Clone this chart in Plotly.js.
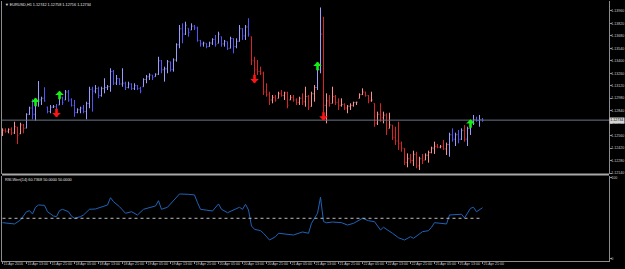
<!DOCTYPE html>
<html><head><meta charset="utf-8">
<script src="https://cdn.plot.ly/plotly-3.0.1.min.js"></script>
<style>html,body{margin:0;padding:0;background:#000;overflow:hidden}#c{width:625px;height:269px}</style>
</head><body><div id="c"></div>
<script>
// ---- data (EURUSD, H1) ----
const symbol = "EURUSD,H1";
const open = [
1.12600,1.12620,1.12610,1.12630,1.12590,1.12650,1.12580,1.12680,1.12645,1.12800,
1.12870,1.12800,1.12950,1.12960,1.12980,1.12880,1.12830,1.12880,1.12885,1.12904,
1.12990,1.12960,1.13050,1.12960,1.12900,1.12820,1.12850,1.12870,1.12830,1.12920,
1.13080,1.13060,1.13090,1.13010,1.13090,1.13100,1.13110,1.13280,1.13150,1.13200,
1.13140,1.13150,1.13100,1.13140,1.13090,1.13120,1.13090,1.13109,1.13190,1.13220,
1.13240,1.13222,1.13250,1.13400,1.13300,1.13310,1.13390,1.13300,1.13410,1.13580,
1.13760,1.13700,1.13765,1.13746,1.13790,1.13770,1.13630,1.13590,1.13597,1.13560,
1.13600,1.13640,1.13597,1.13671,1.13590,1.13615,1.13541,1.13650,1.13560,1.13620,
1.13760,1.13680,1.13780,1.13671,1.13400,1.13300,1.13280,1.13260,1.13050,1.13020,
1.12960,1.12990,1.12979,1.13030,1.13010,1.13040,1.12960,1.12990,1.12960,1.12930,
1.12980,1.12940,1.13000,1.12890,1.13030,1.13100,1.13300,1.13700,1.12900,1.12950,
1.12923,1.13000,1.12930,1.12900,1.12910,1.12870,1.12890,1.12900,1.12930,1.12979,
1.13020,1.13050,1.13010,1.12950,1.12923,1.12700,1.12800,1.12760,1.12790,1.12642,
1.12679,1.12540,1.12500,1.12470,1.12418,1.12260,1.12300,1.12280,1.12350,1.12220,
1.12300,1.12286,1.12340,1.12370,1.12420,1.12440,1.12430,1.12440,1.12410,1.12460,
1.12570,1.12520,1.12570,1.12520,1.12620,1.12520,1.12640,1.12720,1.12740,1.12730,
1.12742];
const high = [
1.12642,1.12642,1.12642,1.12653,1.12716,1.12660,1.12705,1.12690,1.12811,1.12885,
1.12968,1.12979,1.13173,1.12997,1.13103,1.12885,1.12904,1.12904,1.12915,1.13016,
1.12997,1.13072,1.13072,1.12979,1.12960,1.12867,1.12885,1.12904,1.12941,1.13109,
1.13109,1.13128,1.13109,1.13109,1.13204,1.13128,1.13316,1.13297,1.13241,1.13204,
1.13316,1.13166,1.13166,1.13148,1.13148,1.13128,1.13109,1.13204,1.13241,1.13260,
1.13241,1.13260,1.13446,1.13409,1.13334,1.13409,1.13390,1.13428,1.13597,1.13802,
1.13821,1.13839,1.13765,1.13821,1.13802,1.13783,1.13634,1.13615,1.13597,1.13615,
1.13653,1.13690,1.13727,1.13671,1.13634,1.13615,1.13671,1.13653,1.13653,1.13802,
1.13765,1.13802,1.13878,1.13671,1.13446,1.13409,1.13334,1.13278,1.13148,1.13053,
1.13016,1.13016,1.13053,1.13072,1.13053,1.13053,1.13016,1.13016,1.12979,1.12997,
1.13035,1.13109,1.13016,1.13053,1.13128,1.13334,1.13999,1.13895,1.13035,1.13016,
1.13109,1.13016,1.12979,1.12979,1.12923,1.12904,1.12923,1.12941,1.12941,1.13035,
1.13091,1.13053,1.13016,1.13053,1.12923,1.12829,1.12923,1.12829,1.12811,1.12817,
1.12679,1.12660,1.12716,1.12492,1.12418,1.12361,1.12354,1.12391,1.12379,1.12323,
1.12354,1.12361,1.12391,1.12436,1.12492,1.12466,1.12455,1.12511,1.12481,1.12593,
1.12642,1.12593,1.12623,1.12642,1.12679,1.12660,1.12735,1.12792,1.12772,1.12792,
1.12758];
const low = [
1.12556,1.12593,1.12586,1.12567,1.12578,1.12466,1.12578,1.12586,1.12642,1.12792,
1.12743,1.12728,1.12885,1.12904,1.12941,1.12811,1.12811,1.12870,1.12825,1.12904,
1.12904,1.12960,1.12941,1.12885,1.12772,1.12811,1.12811,1.12811,1.12743,1.12867,
1.12829,1.13035,1.12979,1.12997,1.13035,1.13072,1.13053,1.13128,1.13128,1.13128,
1.13109,1.13072,1.13091,1.13072,1.13072,1.13072,1.13035,1.13109,1.13148,1.13185,
1.13185,1.13222,1.13241,1.13260,1.13166,1.13260,1.13278,1.13278,1.13390,1.13541,
1.13597,1.13690,1.13671,1.13746,1.13746,1.13615,1.13559,1.13559,1.13541,1.13559,
1.13578,1.13559,1.13597,1.13559,1.13559,1.13522,1.13541,1.13484,1.13541,1.13615,
1.13634,1.13634,1.13671,1.13353,1.13166,1.13241,1.13241,1.13016,1.12997,1.12904,
1.12923,1.12941,1.12979,1.12997,1.12960,1.12867,1.12960,1.12941,1.12904,1.12904,
1.12904,1.12885,1.12848,1.12885,1.12941,1.13072,1.13260,1.12735,1.12698,1.12885,
1.12923,1.12904,1.12848,1.12885,1.12848,1.12811,1.12848,1.12885,1.12904,1.12979,
1.13016,1.12997,1.12923,1.12941,1.12660,1.12679,1.12716,1.12698,1.12567,1.12642,
1.12511,1.12455,1.12399,1.12379,1.12230,1.12204,1.12249,1.12219,1.12193,1.12174,
1.12241,1.12286,1.12256,1.12361,1.12354,1.12418,1.12418,1.12399,1.12342,1.12323,
1.12492,1.12443,1.12474,1.12511,1.12492,1.12443,1.12567,1.12679,1.12716,1.12660,
1.12716];
const close = [
1.12620,1.12610,1.12630,1.12590,1.12660,1.12560,1.12680,1.12640,1.12800,1.12870,
1.12800,1.12950,1.12960,1.12980,1.12950,1.12830,1.12880,1.12885,1.12850,1.12990,
1.12930,1.13050,1.12960,1.12900,1.12820,1.12850,1.12870,1.12830,1.12920,1.13080,
1.13060,1.13090,1.13010,1.13090,1.13100,1.13110,1.13280,1.13150,1.13200,1.13140,
1.13150,1.13100,1.13140,1.13090,1.13120,1.13090,1.13060,1.13190,1.13220,1.13240,
1.13210,1.13250,1.13400,1.13300,1.13310,1.13390,1.13300,1.13410,1.13580,1.13760,
1.13700,1.13800,1.13720,1.13790,1.13770,1.13630,1.13590,1.13600,1.13560,1.13600,
1.13640,1.13580,1.13700,1.13590,1.13620,1.13540,1.13650,1.13560,1.13620,1.13760,
1.13680,1.13780,1.13700,1.13400,1.13300,1.13280,1.13260,1.13050,1.13020,1.12960,
1.12990,1.12960,1.13030,1.13010,1.13040,1.12900,1.12990,1.12960,1.12930,1.12980,
1.12940,1.13000,1.12880,1.13030,1.13100,1.13300,1.13700,1.12900,1.12950,1.12920,
1.13000,1.12930,1.12900,1.12910,1.12870,1.12890,1.12900,1.12930,1.12935,1.13020,
1.13050,1.13010,1.12950,1.12960,1.12700,1.12800,1.12760,1.12790,1.12620,1.12680,
1.12540,1.12500,1.12470,1.12420,1.12260,1.12300,1.12280,1.12350,1.12220,1.12300,
1.12280,1.12340,1.12370,1.12420,1.12440,1.12430,1.12440,1.12410,1.12460,1.12570,
1.12520,1.12570,1.12520,1.12620,1.12520,1.12640,1.12720,1.12740,1.12730,1.12742,
1.12734];
// trend segments of the colouring indicator (start bar, direction)
const trendStart = [0, 8, 83, 105, 107, 149, 154, 155];
const trendDir   = ['dn','up','dn','up','dn','up','dn','up'];
// signal arrows (bar, price of arrow tip)
const buyBar  = [11, 19, 105, 156];
const buyTip  = [1.12986, 1.13063, 1.13390, 1.12743];
const sellBar = [18, 84, 107];
const sellTip = [1.12766, 1.13148, 1.12728];
// RSI(14)
const rsiBar = [0,2,4,6,8,9,10,11,12,14,15,17,18,19,20,22,23,24,26,27,29,31,33,35,36,37,39,41,43,45,47,51,52,53,55,57,59,62,64,65,66,70,72,73,75,79,80,81,82,83,84,86,87,89,91,92,95,97,100,102,103,105,106,107,108,110,113,115,117,120,122,124,126,127,130,132,134,136,137,140,142,143,144,148,149,152,153,154,156,157,158,160];
const rsiVal = [44.6,43.8,43.0,47.9,58.1,59.4,55.3,63.6,66.4,66.0,58.1,52.8,52.0,59.4,61.1,58.1,52.5,50.0,52.0,54.1,61.1,61.5,64.3,66.4,75.4,70.5,64.3,56.2,58.1,54.1,61.1,65.2,71.7,61.1,63.6,71.7,80.0,79.6,78.8,69.3,61.1,59.0,67.7,61.1,56.9,63.6,61.1,67.3,60.2,40.5,36.4,34.7,31.5,23.2,27.3,31.5,30.6,29.4,33.1,31.5,43.8,56.2,75.9,46.0,44.5,45.4,44.6,41.7,43.8,50.0,47.0,45.8,35.6,38.9,31.5,26.0,23.2,27.3,25.3,33.5,34.7,38.9,44.6,43.0,54.1,54.1,55.0,50.5,62.3,63.6,58.1,63.0];
const rsiLevel = 50;
const rsiReading = "60.7368";
// axis labels
const priceTicks = [1.13960,1.13820,1.13680,1.13540,1.13400,1.13260,1.13120,1.12980,1.12840,1.12700,1.12560,1.12420,1.12280,1.12140];
const rsiTicks = [0, 100];
const timeTickBars = [0,8,16,24,32,40,48,56,64,72,80,88,96,104,112,120,128,136,144,152,160];
const timeTickText = ["15 Apr 2016","15 Apr 13:00","15 Apr 21:00","18 Apr 05:00","18 Apr 13:00","18 Apr 21:00","19 Apr 05:00","19 Apr 13:00","19 Apr 21:00","20 Apr 05:00","20 Apr 13:00","20 Apr 21:00","21 Apr 05:00","21 Apr 13:00","21 Apr 21:00","22 Apr 05:00","22 Apr 13:00","22 Apr 21:00","25 Apr 05:00","25 Apr 13:00","25 Apr 21:00"];

// ---- build ----
const H = 269, mT = 1, mB = 8, mL = 2, mR = 16;
const plotH = H - mT - mB;
const frac = px => (H - mB - px) / plotH;
const idx = close.map((_, i) => i);
const trendOf = i => { let d = trendDir[0]; trendStart.forEach((s, k) => { if (i >= s) d = trendDir[k]; }); return d; };
const mask = (arr, dir) => arr.map((v, i) => trendOf(i) === dir ? v : null);
function ohlcTrace(dir, upCol, dnCol) {
  return {type:'ohlc', x: idx, open: mask(open,dir), high: mask(high,dir), low: mask(low,dir), close: mask(close,dir),
    increasing:{line:{color:upCol,width:1}}, decreasing:{line:{color:dnCol,width:1}},
    tickwidth:0.3, hoverinfo:'skip', xaxis:'x', yaxis:'y', showlegend:false};
}
const n = close.length - 1;
const traces = [
  ohlcTrace('up', '#9c9cff', '#5454f6'),
  ohlcTrace('dn', '#ff8e8e', '#d82424'),
  {type:'scatter', mode:'lines', x: rsiBar, y: rsiVal, line:{color:'#1f63b6', width:1}, xaxis:'x', yaxis:'y2', hoverinfo:'skip', showlegend:false}
];
const FAM = 'Liberation Sans, Arial, sans-serif';
const tickFont = {family:FAM, size:3.6, color:'#cfcfcf'};
const frame = '#8c8c8c';
const annotations = [
  {xref:'paper', yref:'paper', x:0, y:1, xanchor:'left', yanchor:'top', xshift:1, yshift:0, showarrow:false,
   text:'▼ ' + symbol + ' ' + [open[n],high[n],low[n],close[n]].map(v=>v.toFixed(5)).join(' '),
   font:{family:FAM, size:3.8, color:'#e6e6e6'}},
  {xref:'paper', yref:'paper', x:0, y:frac(175.5), xanchor:'left', yanchor:'top', xshift:1, yshift:-0.5, showarrow:false,
   text:'RSI-Wert(14) ' + rsiReading + ' ' + rsiLevel.toFixed(4) + ' ' + rsiLevel.toFixed(4),
   font:{family:FAM, size:3.8, color:'#e6e6e6'}},
  {xref:'paper', yref:'y', x:1, y:close[n], xanchor:'left', yanchor:'middle', xshift:0, showarrow:false,
   text: close[n].toFixed(5), bgcolor:'#d4d4d4', borderpad:0.3,
   font:{family:FAM, size:3.6, color:'#000'}}
];
buyBar.forEach((b,k)=>annotations.push({xref:'x', yref:'y', x:b, y:buyTip[k], ax:0, ay:10, text:'', showarrow:true,
  arrowhead:1, arrowsize:0.55, arrowwidth:2.6, arrowcolor:'#14f014', standoff:0}));
sellBar.forEach((b,k)=>annotations.push({xref:'x', yref:'y', x:b, y:sellTip[k], ax:0, ay:-10, text:'', showarrow:true,
  arrowhead:1, arrowsize:0.55, arrowwidth:2.6, arrowcolor:'#ff1414', standoff:0}));

const layout = {
  width:625, height:269, margin:{l:mL, r:mR, t:mT, b:mB, pad:0},
  paper_bgcolor:'#000', plot_bgcolor:'#000', showlegend:false, hovermode:false,
  xaxis:{domain:[0,1], anchor:'y2', range:[-0.17, -0.17 + 607/3], showgrid:false, zeroline:false,
    showline:true, linecolor:frame, linewidth:1, ticks:'outside', ticklen:2, tickcolor:frame, tickangle:0,
    tickvals: timeTickBars, ticktext: timeTickText, ticklabelposition:'outside right', tickfont:tickFont,
    ticklabelstandoff:-1, rangeslider:{visible:false}, fixedrange:true},
  yaxis:{domain:[frac(173.5),1], anchor:'x', side:'right', range:[1.121346, 1.140718], showgrid:false, zeroline:false,
    showline:true, mirror:true, linecolor:frame, linewidth:1, ticks:'outside', ticklen:1.5, tickcolor:frame,
    tickvals: priceTicks, ticktext: priceTicks.map(v=>v.toFixed(5)), tickfont:tickFont, ticklabelstandoff:-1, fixedrange:true},
  yaxis2:{domain:[0,frac(175.5)], anchor:'x', side:'right', range:[-2.7, 102.8], showgrid:false, zeroline:false,
    showline:true, mirror:true, linecolor:frame, linewidth:1, ticks:'outside', ticklen:1.5, tickcolor:frame,
    tickvals: rsiTicks, ticktext: rsiTicks.map(String), tickfont:tickFont, ticklabelstandoff:-1, fixedrange:true},
  shapes:[
    {type:'rect', xref:'paper', yref:'paper', x0:0, x1:1, y0:frac(175.4), y1:frac(173.4), fillcolor:'#a8a8a8', line:{width:0}},
    {type:'line', xref:'paper', yref:'y', x0:0, x1:1, y0:close[n], y1:close[n], line:{color:'#6a7787', width:1}},
    {type:'line', xref:'x', yref:'y2', x0:0, x1:n, y0:rsiLevel, y1:rsiLevel, line:{color:'#bdbdbd', width:1, dash:'dot'}}
  ],
  annotations
};
Plotly.newPlot('c', traces, layout, {staticPlot:true, displayModeBar:false});
</script>
</body></html>
